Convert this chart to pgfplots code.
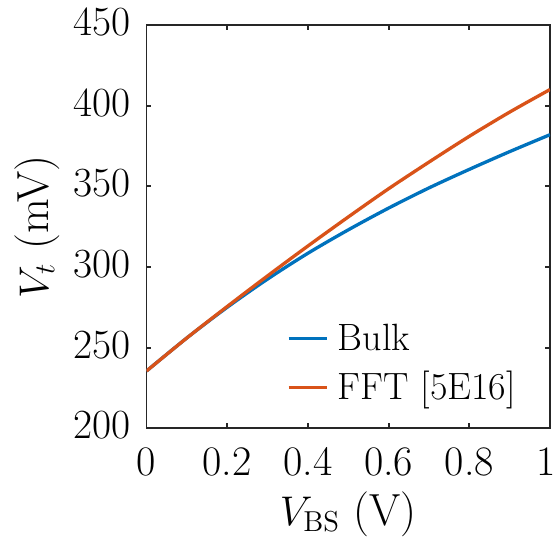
\documentclass[border=0pt]{standalone}
\usepackage{pgfplots}
\pgfplotsset{compat=1.18}
\definecolor{mblue}{rgb}{0,0.447,0.741}
\definecolor{morange}{rgb}{0.85,0.325,0.098}
\definecolor{axgray}{rgb}{0.15,0.15,0.15}
\begin{document}
\begin{tikzpicture}
\begin{axis}[
  scale only axis,
  width=201.75pt, height=201.65pt,
  xmin=0, xmax=1, ymin=200, ymax=450,
  xtick={0,0.2,...,1}, ytick={200,250,...,450},
  xticklabels={0,0.2,0.4,0.6,0.8,\hspace{-3.5pt}1},
  tick align=inside,
  major tick length=2.4pt,
  axis line style={axgray, line width=0.9pt},
  every tick/.style={axgray, line width=0.9pt},
  tick label style={font=\fontsize{21}{25}\selectfont, inner sep=0pt},
  xticklabel style={anchor=base, yshift=-23.6pt},
  yticklabel style={anchor=east, xshift=-8pt, yshift=1.4pt},
  label style={font=\fontsize{22.5}{27}\selectfont, inner sep=0pt},
  xlabel={$V_{\mathrm{BS}}$ (V)},
  ylabel={$V_t$ (mV)},
  xlabel style={at={(axis description cs:0.5,-0.240)}, anchor=base},
  ylabel style={at={(axis description cs:-0.244,0.5)}, anchor=base, rotate=0},
  legend style={draw=none, fill=none, inner sep=0pt, outer sep=0pt,
    font=\fontsize{19}{23}\selectfont,
    at={(0.348,0.2718)}, anchor=north west,
    row sep=5.15pt, column sep=2.65pt,
    cells={inner sep=0pt, text height=14pt, text depth=5pt}},
  legend cell align=left,
  legend image code/.code={\draw[#1] (0pt,0pt) -- (19.2pt,0pt);},
]
\addplot[mblue, line width=1.65pt, smooth] coordinates {
  (0,235.5) (0.1,256) (0.2,275) (0.3,292.5) (0.4,308.5) (0.5,323)
  (0.6,336.5) (0.7,349) (0.8,360.5) (0.9,371.5) (1,382)
};
\addlegendentry{Bulk}
\addplot[morange, line width=1.65pt, smooth] coordinates {
  (0,235.5) (0.1,256) (0.2,275.5) (0.3,294.5) (0.4,313) (0.5,331)
  (0.6,348.5) (0.7,365) (0.8,381) (0.9,396) (1,410)
};
\addlegendentry{FFT [5E16]}
\end{axis}
\pgfresetboundingbox
\path ([shift={(-73.25pt,-57.85pt)}]current axis.south west)
  rectangle ([shift={(2.5pt,12.5pt)}]current axis.north east);
\end{tikzpicture}
\end{document}
